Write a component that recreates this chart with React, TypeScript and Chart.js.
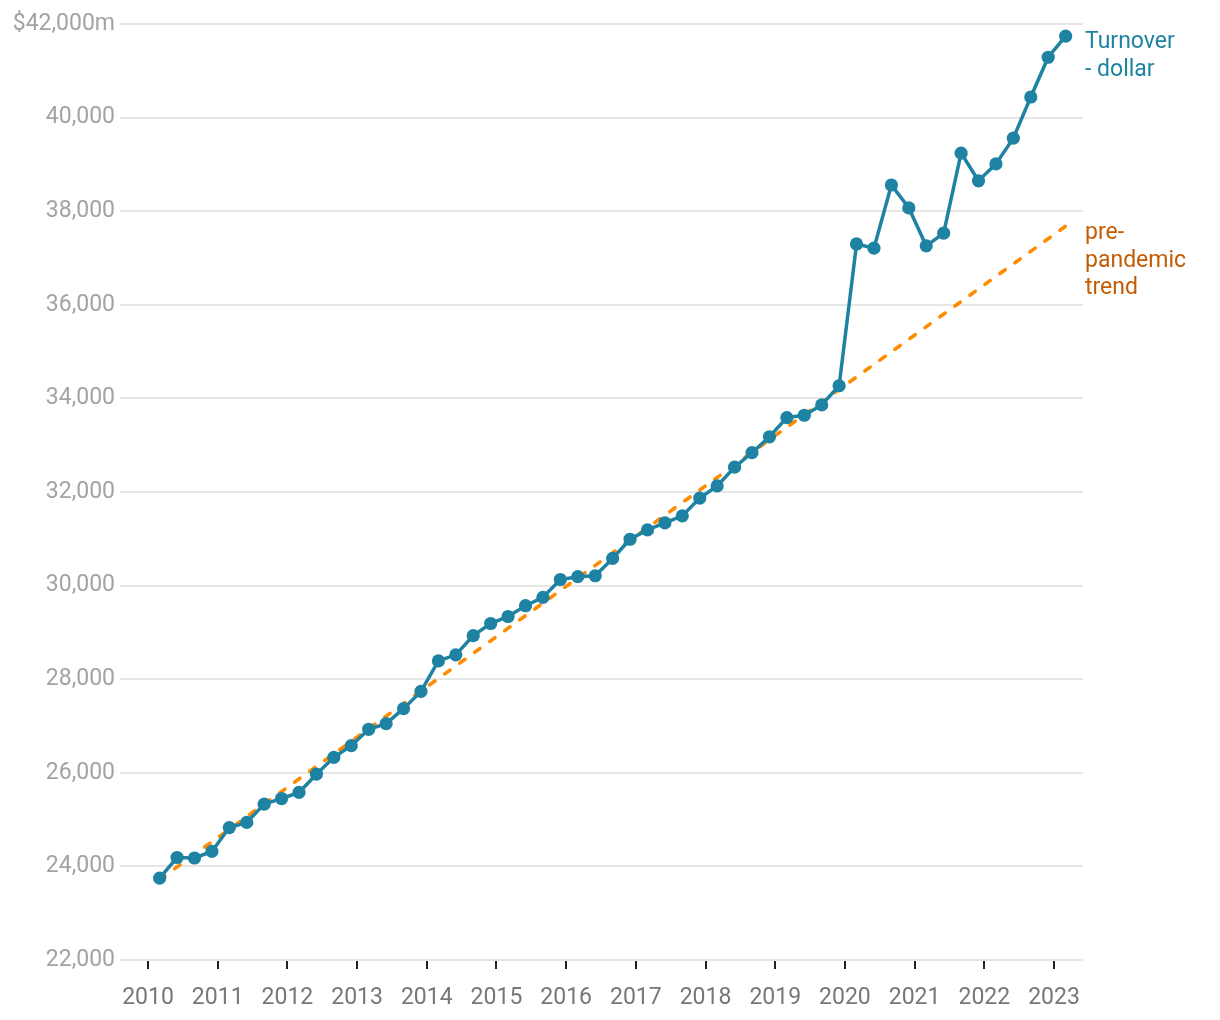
import React, { useEffect, useRef } from 'react';
import { Chart, registerables } from 'chart.js';

Chart.register(...registerables);

// Quarterly periods (year-month)
const periods = [
  '2010-03', '2010-06', '2010-09', '2010-12',
  '2011-03', '2011-06', '2011-09', '2011-12',
  '2012-03', '2012-06', '2012-09', '2012-12',
  '2013-03', '2013-06', '2013-09', '2013-12',
  '2014-03', '2014-06', '2014-09', '2014-12',
  '2015-03', '2015-06', '2015-09', '2015-12',
  '2016-03', '2016-06', '2016-09', '2016-12',
  '2017-03', '2017-06', '2017-09', '2017-12',
  '2018-03', '2018-06', '2018-09', '2018-12',
  '2019-03', '2019-06', '2019-09', '2019-12',
  '2020-03', '2020-06', '2020-09', '2020-12',
  '2021-03', '2021-06', '2021-09', '2021-12',
  '2022-03', '2022-06', '2022-09', '2022-12',
  '2023-03',
];

// Turnover, $m
const turnover = [
  23750, 24190, 24180, 24320,
  24830, 24940, 25330, 25450,
  25580, 25970, 26330, 26580,
  26930, 27050, 27370, 27740,
  28390, 28520, 28930, 29190,
  29340, 29570, 29750, 30130,
  30190, 30210, 30580, 30990,
  31190, 31340, 31490, 31870,
  32130, 32530, 32840, 33180,
  33590, 33640, 33860, 34270,
  37300, 37210, 38560, 38070,
  37260, 37530, 39240, 38650,
  39010, 39560, 40440, 41290,
  41740,
];

// Pre-pandemic linear trend (end points)
const trendPeriods = ['2010-03', '2023-03'];
const trendValues = [23720, 37680];

const yearTicks = [2010, 2011, 2012, 2013, 2014, 2015, 2016, 2017, 2018, 2019, 2020, 2021, 2022, 2023];
const turnoverLabelLines = ['Turnover', '- dollar'];
const trendLabelLines = ['pre-', 'pandemic', 'trend'];

const BLUE = '#1e83a2';
const ORANGE = '#ff8c00';
const ORANGE_TEXT = '#c45c04';
const FONT = 'Roboto, "Noto Sans", sans-serif';

const toYear = (p: string) => {
  const [y, m] = p.split('-').map(Number);
  return y + (m - 1) / 12;
};

const endLabels = {
  id: 'endLabels',
  afterDatasetsDraw(chart: any) {
    const ctx = chart.ctx;
    const x = chart.chartArea.right + 2;
    const draw = (dsIndex: number, lines: string[], color: string, offset: number) => {
      const meta = chart.getDatasetMeta(dsIndex);
      const pts = meta.data;
      const last = pts[pts.length - 1];
      ctx.save();
      ctx.font = `23px ${FONT}`;
      ctx.fillStyle = color;
      ctx.textAlign = 'left';
      ctx.textBaseline = 'alphabetic';
      lines.forEach((line, i) => {
        ctx.fillText(line, x, last.y + offset + i * 27.5);
      });
      ctx.restore();
    };
    draw(0, turnoverLabelLines, BLUE, 12);
    draw(1, trendLabelLines, ORANGE_TEXT, 13);
  },
};

export default function App() {
  const ref = useRef<HTMLCanvasElement | null>(null);

  useEffect(() => {
    document.body.style.margin = '0';
    if (!ref.current) return;
    const chart = new Chart(ref.current, {
      type: 'line',
      data: {
        datasets: [
          {
            label: 'Turnover - dollar',
            data: periods.map((p, i) => ({ x: toYear(p), y: turnover[i] })),
            borderColor: BLUE,
            backgroundColor: BLUE,
            borderWidth: 3.5,
            pointRadius: 6.6,
            pointBackgroundColor: BLUE,
            pointBorderWidth: 0,
            tension: 0,
          },
          {
            label: 'pre-pandemic trend',
            data: trendPeriods.map((p, i) => ({ x: toYear(p), y: trendValues[i] })),
            borderColor: ORANGE,
            borderWidth: 3.6,
            borderDash: [6.5, 12],
            borderCapStyle: 'round',
            pointRadius: 0,
            tension: 0,
          },
        ],
      },
      options: {
        responsive: false,
        animation: false,
        devicePixelRatio: 1,
        layout: { padding: { top: 24, right: 137, left: 0, bottom: 0 } },
        plugins: {
          legend: { display: false },
          tooltip: { enabled: false },
          title: { display: false },
        },
        scales: {
          x: {
            type: 'linear',
            min: 2009.598,
            max: 2023.416,
            afterBuildTicks: (scale: any) => {
              scale.ticks = yearTicks.map((v) => ({ value: v }));
            },
            afterFit: (scale: any) => {
              scale.height = 60;
            },
            grid: {
              display: true,
              drawOnChartArea: false,
              drawTicks: true,
              tickLength: 9,
              color: '#222',
              lineWidth: 2,
            },
            border: { display: false },
            ticks: {
              autoSkip: false,
              maxRotation: 0,
              padding: 15,
              color: '#777',
              font: { family: FONT, size: 23 },
              callback: (v: any) => String(v),
            },
          },
          y: {
            type: 'linear',
            min: 22000,
            max: 42000,
            afterFit: (scale: any) => {
              scale.width = 120;
            },
            grid: {
              color: '#e6e6e6',
              lineWidth: 2,
              drawTicks: false,
            },
            border: { display: false },
            ticks: {
              stepSize: 2000,
              padding: 5,
              color: '#a3a3a3',
              font: { family: FONT, size: 23 },
              callback: (v: any) =>
                v === 42000 ? '$42,000m' : Number(v).toLocaleString('en-US'),
            },
          },
        },
      },
      plugins: [endLabels],
    } as any);
    return () => chart.destroy();
  }, []);

  return (
    <div style={{ position: 'absolute', left: 0, top: 0, width: 1220, height: 1020, background: '#fff' }}>
      <canvas ref={ref} width={1220} height={1020} style={{ width: 1220, height: 1020, display: 'block' }} />
    </div>
  );
}
